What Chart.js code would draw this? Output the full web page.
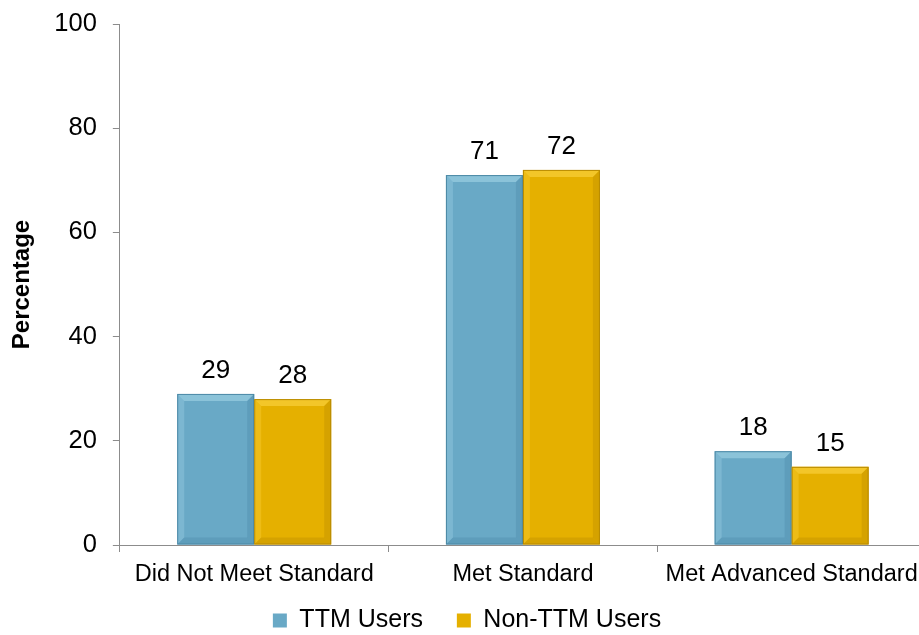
<!DOCTYPE html>
<html>
<head>
<meta charset="utf-8">
<script src="https://cdn.jsdelivr.net/npm/chart.js@4"></script>
<style>
  html, body { margin: 0; padding: 0; background: #fff; overflow: hidden; }
  #wrap { width: 926px; height: 635px; }
</style>
</head>
<body>
<div id="wrap"><canvas id="chart"></canvas></div>
<script>
const categories = ["Did Not Meet Standard", "Met Standard", "Met Advanced Standard"];
const ttmUsers = [29, 71, 18];
const nonTtmUsers = [28, 72, 15];
const yTicks = [0, 20, 40, 60, 80, 100];

const BLUE = "#69a9c6", BLUE_HI = "#a8d8ea", BLUE_LO = "#4b88a5";
const GOLD = "#e5b000", GOLD_HI = "#ffd84a", GOLD_LO = "#b88a00";
const AXIS = "#8c8c8c", FONT = "'Liberation Sans', Arial, sans-serif";

// value labels above each bar
const valueLabels = {
  id: "valueLabels",
  afterDatasetsDraw(chart) {
    const c = chart.ctx;
    c.save();
    c.font = "26px " + FONT;
    c.fillStyle = "#000";
    c.textAlign = "center";
    c.textBaseline = "alphabetic";
    chart.data.datasets.forEach((ds, i) => {
      chart.getDatasetMeta(i).data.forEach((bar, j) => {
        c.fillText(ds.data[j], bar.x, bar.y - 16);
      });
    });
    c.restore();
  }
};

// soft bevel look on the bars
const bevel = {
  id: "bevel",
  afterDatasetsDraw(chart) {
    const c = chart.ctx;
    const b = 7;
    chart.data.datasets.forEach((ds, i) => {
      const hi = i === 0 ? BLUE_HI : GOLD_HI;
      const lo = i === 0 ? BLUE_LO : GOLD_LO;
      chart.getDatasetMeta(i).data.forEach(bar => {
        const l = bar.x - bar.width / 2, r = bar.x + bar.width / 2;
        const t = bar.y, btm = bar.base;
        c.save();
        c.globalAlpha = 0.55;
        c.fillStyle = hi;
        c.beginPath();
        c.moveTo(l, t); c.lineTo(r, t); c.lineTo(r - b, t + b); c.lineTo(l + b, t + b);
        c.closePath(); c.fill();
        c.globalAlpha = 0.3;
        c.beginPath();
        c.moveTo(l, t); c.lineTo(l + b, t + b); c.lineTo(l + b, btm - b); c.lineTo(l, btm);
        c.closePath(); c.fill();
        c.globalAlpha = 0.35;
        c.fillStyle = lo;
        c.beginPath();
        c.moveTo(r, t); c.lineTo(r, btm); c.lineTo(r - b, btm - b); c.lineTo(r - b, t + b);
        c.closePath(); c.fill();
        c.beginPath();
        c.moveTo(l, btm); c.lineTo(r, btm); c.lineTo(r - b, btm - b); c.lineTo(l + b, btm - b);
        c.closePath(); c.fill();
        c.globalAlpha = 1;
        c.strokeStyle = lo;
        c.lineWidth = 1;
        c.strokeRect(l + 0.5, t + 0.5, bar.width - 1, btm - t - 1);
        c.restore();
      });
    });
  }
};

new Chart(document.getElementById("chart"), {
  type: "bar",
  data: {
    labels: categories,
    datasets: [
      { label: "TTM Users", data: ttmUsers, backgroundColor: BLUE, borderColor: BLUE_LO, borderWidth: 0 },
      { label: "Non-TTM Users", data: nonTtmUsers, backgroundColor: GOLD, borderColor: GOLD_LO, borderWidth: 0 }
    ]
  },
  options: {
    responsive: true,
    maintainAspectRatio: false,
    animation: false,
    datasets: { bar: { barPercentage: 1, categoryPercentage: 0.573 } },
    layout: { padding: { top: 24, left: 8, right: 0, bottom: -8 } },
    plugins: {
      tooltip: { enabled: false },
      legend: {
        position: "bottom",
        labels: {
          font: { family: FONT, size: 25 },
          color: "#000",
          boxWidth: 14,
          boxHeight: 14,
          padding: 20,
          generateLabels: chart => {
            const items = Chart.defaults.plugins.legend.labels.generateLabels(chart);
            items[0].text += "  ";
            return items;
          }
        }
      }
    },
    scales: {
      x: {
        grid: { display: true, drawOnChartArea: false, tickLength: 7, color: AXIS, offset: true },
        border: { color: AXIS },
        ticks: { font: { family: FONT, size: 23.5 }, color: "#000", maxRotation: 0, autoSkip: false, padding: 8 },
        afterFit: scale => { scale.paddingLeft = 0; scale.paddingRight = 0; scale.height = 43; }
      },
      y: {
        min: 0,
        max: 100,
        afterBuildTicks: axis => { axis.ticks = yTicks.map(v => ({ value: v })); },
        afterFit: scale => { scale.paddingTop = 0; scale.paddingBottom = 0; },
        grid: { display: true, drawOnChartArea: false, tickLength: 7, color: AXIS },
        border: { color: AXIS },
        ticks: { font: { family: FONT, size: 25.5 }, color: "#000", padding: 16 },
        title: {
          display: true,
          text: "Percentage",
          font: { family: FONT, size: 24, weight: "bold" },
          color: "#000",
          padding: { top: 0, bottom: 1.5 }
        }
      }
    }
  },
  plugins: [bevel, valueLabels]
});
</script>
</body>
</html>
